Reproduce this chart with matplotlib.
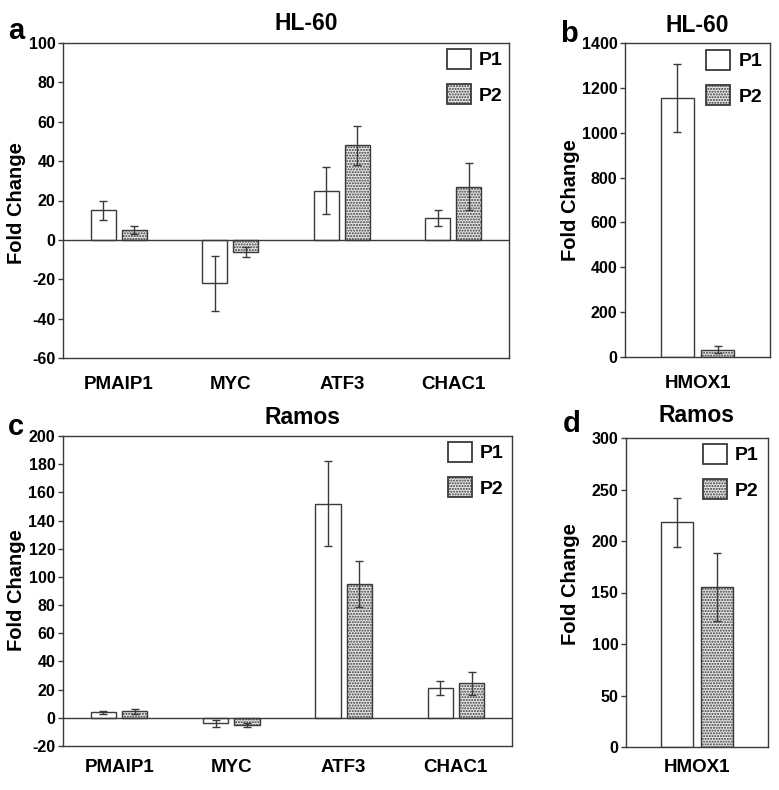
import matplotlib
matplotlib.use("Agg")
import matplotlib.pyplot as plt
import numpy as np

plt.rcParams['font.family'] = ['Liberation Sans', 'DejaVu Sans']
plt.rcParams['font.weight'] = 'bold'
plt.rcParams['axes.unicode_minus'] = False
plt.rcParams['hatch.linewidth'] = 1.0

# ---- data ----
genes = ["PMAIP1", "MYC", "ATF3", "CHAC1"]
hl60_p1 = [15, -22, 25, 11]
hl60_p1_err = [5, 14, 12, 4]
hl60_p2 = [5, -6, 48, 27]
hl60_p2_err = [2, 2.5, 10, 12]

hmox_gene = ["HMOX1"]
hl60_hmox_p1 = [1155]
hl60_hmox_p1_err = [150]
hl60_hmox_p2 = [33]
hl60_hmox_p2_err = [16]

ramos_p1 = [4, -4, 152, 21]
ramos_p1_err = [1, 2.5, 30, 5]
ramos_p2 = [4.5, -5, 95, 24.5]
ramos_p2_err = [1.5, 1.5, 16.5, 8]

ramos_hmox_p1 = [218]
ramos_hmox_p1_err = [24]
ramos_hmox_p2 = [155]
ramos_hmox_p2_err = [33]

series_names = ["P1", "P2"]

W, H = 779, 790
fig = plt.figure(figsize=(W / 100, H / 100), dpi=100)

EDGE = '#3a3a3a'
LEG_FS = 14
LEG_PX = LEG_FS * 100 / 72


def add_ax(l, r, t, b):
    ax = fig.add_axes([l / W, (H - b) / H, (r - l) / W, (b - t) / H])
    ax._pix = (l, r, t, b)
    return ax


def panel(ax, cats, p1, e1, p2, e2, ylim, ystep, zero_line, xpad, leg_xy):
    x = np.arange(len(cats))
    bw = 0.225
    off = 0.14
    ekw = dict(ecolor=EDGE, elinewidth=1.0, capsize=3, capthick=1.0)
    ax.bar(x - off, p1, bw, yerr=e1, facecolor='white', edgecolor=EDGE,
           linewidth=1.0, error_kw=ekw, label=series_names[0], zorder=2)
    ax.bar(x + off, p2, bw, yerr=e2, facecolor='#e6e6e6', edgecolor=EDGE,
           hatch='......', linewidth=1.0, error_kw=ekw,
           label=series_names[1], zorder=2)
    ax.set_xlim(-0.5, len(cats) - 0.5)
    ax.set_ylim(*ylim)
    ax.set_yticks(np.arange(ylim[0], ylim[1] + ystep / 2, ystep))
    ax.set_xticks(x, cats)
    ax.tick_params(axis='x', length=0, pad=xpad, labelsize=13.5)
    ax.tick_params(axis='y', direction='out', length=3.5, width=1,
                   color=EDGE, pad=2, labelsize=11.5)
    for lbl in ax.get_xticklabels() + ax.get_yticklabels():
        lbl.set_fontweight('bold')
    for s in ax.spines.values():
        s.set_color(EDGE)
        s.set_linewidth(1.0)
    if zero_line:
        ax.axhline(0, color=EDGE, linewidth=1.0, zorder=3)
    l, r, t, b = ax._pix
    ax_x = (leg_xy[0] - l) / (r - l)
    ax_y = (b - leg_xy[1]) / (b - t)
    leg = ax.legend(loc='upper right', frameon=False, fontsize=LEG_FS,
                    handlelength=24 / LEG_PX, handleheight=23 / LEG_PX,
                    labelspacing=15 / LEG_PX, handletextpad=8 / LEG_PX,
                    borderaxespad=0, borderpad=0,
                    bbox_to_anchor=(ax_x, ax_y))
    for t_ in leg.get_texts():
        t_.set_fontweight('bold')
    for h in leg.legend_handles:
        h.set_linewidth(1.3)


def ftext(x, y, s, **kw):
    fig.text(x / W, 1 - y / H, s, ha='center', va='center',
             fontweight='bold', **kw)


ax_a = add_ax(63, 509, 43, 358)
panel(ax_a, genes, hl60_p1, hl60_p1_err, hl60_p2, hl60_p2_err,
      (-60, 100), 20, True, 13, (503, 49))
ax_b = add_ax(625, 770, 43, 357)
panel(ax_b, hmox_gene, hl60_hmox_p1, hl60_hmox_p1_err, hl60_hmox_p2,
      hl60_hmox_p2_err, (0, 1400), 200, False, 13, (762, 50))
ax_c = add_ax(63, 512, 436, 746)
panel(ax_c, genes, ramos_p1, ramos_p1_err, ramos_p2, ramos_p2_err,
      (-20, 200), 20, True, 9, (504, 442))
ax_d = add_ax(626, 768, 438, 747)
panel(ax_d, hmox_gene, ramos_hmox_p1, ramos_hmox_p1_err, ramos_hmox_p2,
      ramos_hmox_p2_err, (0, 300), 50, False, 9, (759, 444))

# titles
ftext(306, 24, "HL-60", fontsize=16.5)
ftext(697, 25, "HL-60", fontsize=16.5)
ftext(303, 417, "Ramos", fontsize=16.5)
ftext(696, 416, "Ramos", fontsize=16.5)

# panel letters
ftext(16, 31, "a", fontsize=21)
ftext(569, 34, "b", fontsize=21)
ftext(16, 427, "c", fontsize=21)
ftext(572, 424, "d", fontsize=21)

# y labels
ftext(17, 203, "Fold Change", fontsize=14.5, rotation=90)
ftext(570, 200, "Fold Change", fontsize=14.5, rotation=90)
ftext(17, 590, "Fold Change", fontsize=14.5, rotation=90)
ftext(570, 584, "Fold Change", fontsize=14.5, rotation=90)

fig.savefig("out.png", dpi=100)
